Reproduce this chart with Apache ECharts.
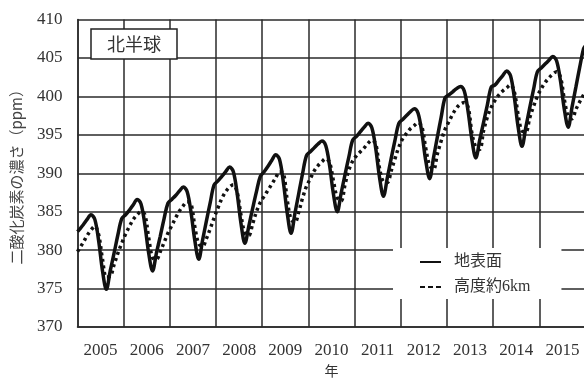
<!DOCTYPE html>
<html><head><meta charset="utf-8">
<script src="https://cdn.jsdelivr.net/npm/echarts@6/dist/echarts.min.js"></script>
<style>html,body{margin:0;padding:0;background:#fff}#c{width:584px;height:378px}</style>
</head><body><div id="c"></div>
<script>
const yearLabels = ['2005','2006','2007','2008','2009','2010','2011','2012','2013','2014','2015'];
const yTicks = [370, 375, 380, 385, 390, 395, 400, 405, 410];
const seriesNames = ['地表面', '高度約6km'];
// monthly (mid-month) values, Jan 2005 - Dec 2015
const surface = [
 382.7,383.3,384.0,384.6,384.0,381.2,377.3,374.9,377.3,379.6,382.0,384.1,
 384.6,385.2,385.9,386.6,386.0,383.3,379.6,377.3,379.6,381.8,384.1,386.1,
 386.6,387.1,387.7,388.2,387.6,384.9,381.2,378.8,381.3,383.8,386.2,388.5,
 389.0,389.6,390.2,390.8,390.2,387.3,383.4,380.9,383.1,385.4,387.6,389.6,
 390.2,390.9,391.7,392.4,391.8,388.8,384.8,382.2,384.8,387.4,390.0,392.3,
 392.8,393.3,393.8,394.2,393.6,391.0,387.3,385.0,387.4,389.8,392.1,394.3,
 394.8,395.4,396.0,396.5,395.9,393.2,389.4,387.0,389.4,391.9,394.3,396.5,
 397.0,397.5,398.0,398.4,397.8,395.2,391.6,389.3,392.0,394.7,397.3,399.8,
 400.2,400.6,401.0,401.3,400.7,398.0,394.3,392.0,394.3,396.6,398.9,401.2,
 401.5,402.1,402.7,403.3,402.7,399.9,396.0,393.5,396.0,398.5,400.9,403.2,
 403.7,404.2,404.7,405.2,404.6,402.0,398.3,396.0,398.6,401.2,403.8,406.2
];
const altitude = [
 380.2,381.0,381.9,382.6,383.1,382.0,378.8,376.5,376.6,378.1,379.6,380.9,
 382.1,383.1,384.0,384.6,385.0,384.6,381.6,379.0,378.8,379.8,381.0,382.2,
 383.2,384.2,385.1,385.8,386.3,386.0,383.0,380.8,380.5,381.5,382.8,384.2,
 385.5,386.7,387.6,388.2,388.5,387.5,384.5,382.2,381.9,383.4,385.0,386.2,
 387.0,387.8,388.6,389.4,390.2,390.0,386.5,384.0,383.6,385.0,386.8,388.3,
 389.3,390.3,391.0,391.5,391.9,391.4,389.0,386.8,386.4,388.5,390.4,391.6,
 392.3,392.8,393.3,393.9,394.3,393.8,390.6,388.9,388.8,390.3,391.9,393.4,
 394.5,395.2,395.8,396.2,396.6,396.0,393.2,391.0,390.5,392.5,394.2,395.7,
 396.7,397.7,398.5,399.0,399.2,398.6,395.2,393.4,393.1,395.5,397.3,398.6,
 399.5,400.2,400.7,401.1,401.5,400.6,397.6,395.5,395.4,397.2,398.7,400.0,
 401.0,401.8,402.4,402.9,403.2,402.5,399.6,397.4,397.1,398.3,399.3,400.2
];
// values at the start (Jan 1 2005) and end (Jan 1 2016) edges
const surfaceEdges = [382.4, 406.6];
const altitudeEdges = [379.8, 400.6];
const startYear = 2005, endYear = 2016;

function toPairs(vals, edges) {
  const out = [[startYear, edges[0]]];
  vals.forEach((v, i) => out.push([startYear + (i + 0.5) / 12, v]));
  out.push([endYear, edges[1]]);
  return out;
}

const serif = '"Liberation Serif", "DejaVu Serif", serif';
const cjk = '"Noto Sans CJK JP", sans-serif';
const gridColor = '#2a2a2a';

const chart = echarts.init(document.getElementById('c'), null, {renderer: 'canvas'});
chart.setOption({
  animation: false,
  backgroundColor: '#fff',
  title: {
    text: '北半球', left: 91, top: 29,
    padding: [5, 16, 5, 16],
    borderColor: '#222', borderWidth: 1.5, backgroundColor: '#fff',
    textStyle: {fontFamily: cjk, fontSize: 18, fontWeight: 'normal', color: '#333', lineHeight: 20}
  },
  grid: {left: 77.5, right: -1.5, top: 19.5, bottom: 51, containLabel: false, outerBoundsMode: 'none'},
  legend: {
    orient: 'vertical', left: 393, top: 248,
    padding: [6, 31, 4, 27],
    backgroundColor: '#fff',
    itemWidth: 21, itemHeight: 16, itemGap: 9,
    textStyle: {fontFamily: serif + ',' + cjk, fontSize: 16, color: '#333', padding: [0,0,0,8]},
    data: [
      {name: seriesNames[0], icon: 'path://M0,7 L21,7 L21,9 L0,9 Z', itemStyle: {color: '#111'}},
      {name: seriesNames[1], icon: 'path://M0,7 L5,7 L5,9 L0,9 Z M8,7 L13,7 L13,9 L8,9 Z M16,7 L21,7 L21,9 L16,9 Z', itemStyle: {color: '#111'}}
    ]
  },
  xAxis: [
    {
      type: 'value', min: startYear, max: endYear, interval: 1,
      axisLine: {show: true, lineStyle: {color: gridColor, width: 1.5}},
      axisTick: {show: false}, axisLabel: {show: false},
      splitLine: {show: true, lineStyle: {color: gridColor, width: 1.5}}
    },
    {
      type: 'category', data: yearLabels, position: 'bottom', boundaryGap: true,
      axisLine: {show: false}, axisTick: {show: false},
      axisLabel: {fontFamily: serif, fontSize: 17, color: '#333', margin: 15},
      splitLine: {show: false},
      name: '年', nameLocation: 'middle', nameGap: 37,
      nameTextStyle: {fontFamily: cjk, fontSize: 14, color: '#333'}
    }
  ],
  yAxis: {
    type: 'value', min: yTicks[0], max: yTicks[yTicks.length - 1], interval: 5,
    axisLine: {show: true, lineStyle: {color: gridColor, width: 1.5}},
    axisTick: {show: false},
    axisLabel: {fontFamily: serif, fontSize: 17, color: '#333', margin: 15},
    splitLine: {show: true, lineStyle: {color: gridColor, width: 1.5}},
    name: '二酸化炭素の濃さ（ppm）', nameLocation: 'middle', nameGap: 54, nameRotate: 90,
    nameTextStyle: {fontFamily: cjk, fontSize: 15, color: '#444'}
  },
  series: [
    {
      name: seriesNames[0], type: 'line', xAxisIndex: 0, data: toPairs(surface, surfaceEdges),
      showSymbol: false, smooth: 0.35, z: 3,
      lineStyle: {color: '#111', width: 3.5}
    },
    {
      name: seriesNames[1], type: 'line', xAxisIndex: 0, data: toPairs(altitude, altitudeEdges),
      showSymbol: false, smooth: 0.35, z: 2,
      lineStyle: {color: '#111', width: 3.5, type: [3, 3.5], cap: 'butt'}
    }
  ]
});
</script></body></html>
